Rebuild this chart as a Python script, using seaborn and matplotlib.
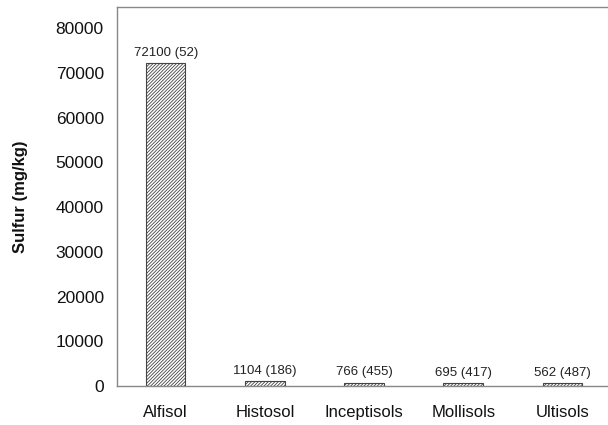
import matplotlib
matplotlib.use("Agg")
import matplotlib.pyplot as plt
import seaborn as sns
import pandas as pd

categories = ["Alfisol", "Histosol", "Inceptisols", "Mollisols", "Ultisols"]
sulfur = [72100, 1104, 766, 695, 562]
counts = [52, 186, 455, 417, 487]
yticks = [0, 10000, 20000, 30000, 40000, 50000, 60000, 70000, 80000]

sns.set_style("white")
plt.rcParams["font.family"] = ["Liberation Sans", "DejaVu Sans"]
plt.rcParams["hatch.linewidth"] = 0.6
plt.rcParams["hatch.color"] = "#555555"

df = pd.DataFrame({"soil": categories, "sulfur": sulfur})

fig = plt.figure(figsize=(6.08, 4.25), dpi=100)
ax = fig.add_axes([117 / 608, 1 - 386 / 425, 1 - 117 / 608 + 0.002, (386 - 7) / 425])

sns.barplot(data=df, x="soil", y="sulfur", color="white", edgecolor="#444444",
            linewidth=0.8, width=0.4, ax=ax, saturation=1)
for p in ax.patches:
    p.set_hatch("//////////")

labels = [f"{v} ({n})" for v, n in zip(sulfur, counts)]
ax.bar_label(ax.containers[0], labels=labels, padding=3, fontsize=9.5, color="#222222")

ax.set_xlim(-0.49, 4.47)
ax.set_ylim(0, 84700)
ax.set_yticks(yticks)
ax.set_yticklabels([str(t) for t in yticks], fontsize=12.5, color="#111111")
ax.tick_params(axis="x", labelsize=12, length=0, pad=14, colors="#111111")
ax.tick_params(axis="y", direction="in", length=5, width=0.8, color="#888888", pad=9.5)
ax.set_xlabel("")
ax.set_ylabel("Sulfur (mg/kg)", fontsize=12, fontweight="bold", labelpad=19.5, color="#111111")

for side in ["left", "top", "bottom"]:
    ax.spines[side].set_visible(True)
    ax.spines[side].set_color("#888888")
    ax.spines[side].set_linewidth(1.0)
ax.spines["right"].set_visible(False)

fig.savefig("out.png", dpi=100)
